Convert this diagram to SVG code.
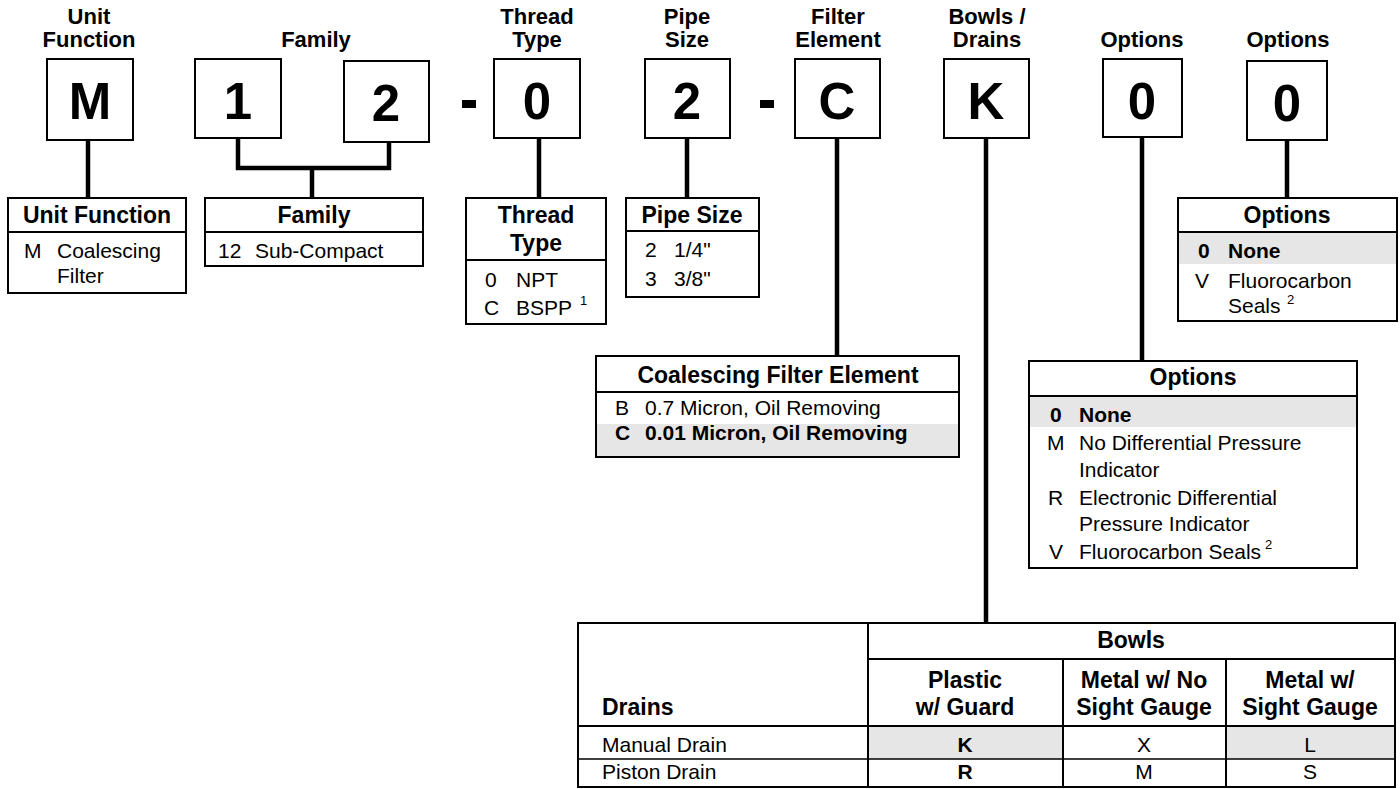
<svg xmlns="http://www.w3.org/2000/svg" width="1400" height="789" viewBox="0 0 1400 789">
<style>
text{font-family:"Liberation Sans",Arial,Helvetica,sans-serif;fill:#000}
.box{fill:#fff;stroke:#000;stroke-width:2}
.div{stroke:#000;stroke-width:2;fill:none}
.thin{stroke:#000;stroke-width:1.5;fill:none}
.conn{stroke:#000;stroke-width:4.5;fill:none}
.lbl{font-size:22px;font-weight:bold;text-anchor:middle}
.big{font-size:51px;font-weight:bold;text-anchor:middle}
.hd{font-size:23px;font-weight:bold;text-anchor:middle}
.tx{font-size:21px}
.b{font-weight:bold}
.mid{text-anchor:middle}
.sup{font-size:13px}
.hl{fill:#e6e6e6}
</style>
<rect width="1400" height="789" fill="#fff"/>

<g id="connectors">
<path class="conn" d="M88,140V197"/>
<path class="conn" d="M238,138V168H389V142M312,168V197"/>
<path class="conn" d="M539,138V197"/>
<path class="conn" d="M687,138V197"/>
<path class="conn" d="M837,138V356"/>
<path class="conn" d="M986,138V623"/>
<path class="conn" d="M1142,137V361"/>
<path class="conn" d="M1287,140V197"/>
</g>

<g id="top-labels">
<text class="lbl" x="89" y="24">Unit</text>
<text class="lbl" x="89" y="47">Function</text>
<text class="lbl" x="316" y="47">Family</text>
<text class="lbl" x="537" y="24">Thread</text>
<text class="lbl" x="537" y="47">Type</text>
<text class="lbl" x="687" y="24">Pipe</text>
<text class="lbl" x="687" y="47">Size</text>
<text class="lbl" x="838" y="24">Filter</text>
<text class="lbl" x="838" y="47">Element</text>
<text class="lbl" x="987" y="24">Bowls /</text>
<text class="lbl" x="987" y="47">Drains</text>
<text class="lbl" x="1142" y="47">Options</text>
<text class="lbl" x="1288" y="47">Options</text>
</g>

<g id="code-M"><rect class="box" x="47" y="59" width="86" height="81"/><text class="big" x="90" y="119">M</text></g>
<g id="code-1"><rect class="box" x="195" y="59" width="86" height="79"/><text class="big" x="238" y="119">1</text></g>
<g id="code-2"><rect class="box" x="344" y="61" width="85" height="81"/><text class="big" x="386" y="121">2</text></g>
<g id="dash-1"><rect x="462" y="100" width="14" height="8" fill="#000"/></g>
<g id="code-0"><rect class="box" x="494" y="59" width="86" height="79"/><text class="big" x="537" y="119">0</text></g>
<g id="code-2b"><rect class="box" x="645" y="59" width="85" height="79"/><text class="big" x="687" y="119">2</text></g>
<g id="dash-2"><rect x="760" y="100" width="14" height="8" fill="#000"/></g>
<g id="code-C"><rect class="box" x="795" y="59" width="85" height="79"/><text class="big" x="837" y="119">C</text></g>
<g id="code-K"><rect class="box" x="944" y="59" width="85" height="79"/><text class="big" x="986" y="119">K</text></g>
<g id="code-0b"><rect class="box" x="1103" y="59" width="79" height="78"/><text class="big" x="1142" y="119">0</text></g>
<g id="code-0c"><rect class="box" x="1247" y="61" width="80" height="79"/><text class="big" x="1287" y="121">0</text></g>

<g id="unit-function">
<rect class="box" x="8" y="198" width="178" height="95"/>
<path class="div" d="M8,232H186"/>
<text class="hd" x="97" y="223">Unit Function</text>
<text class="tx" x="24" y="258">M</text><text class="tx" x="57" y="258">Coalescing</text>
<text class="tx" x="57" y="283">Filter</text>
</g>

<g id="family">
<rect class="box" x="205" y="198" width="218" height="68"/>
<path class="div" d="M205,232H423"/>
<text class="hd" x="314" y="223">Family</text>
<text class="tx" x="218" y="258">12</text><text class="tx" x="255" y="258">Sub-Compact</text>
</g>

<g id="thread-type">
<rect class="box" x="466" y="198" width="140" height="126"/>
<path class="div" d="M466,260H606"/>
<text class="hd" x="536" y="223">Thread</text>
<text class="hd" x="536" y="251">Type</text>
<text class="tx" x="485" y="287">0</text><text class="tx" x="516" y="287">NPT</text>
<text class="tx" x="484" y="315">C</text><text class="tx" x="516" y="315">BSPP</text><text class="sup" x="580" y="305">1</text>
</g>

<g id="pipe-size">
<rect class="box" x="626" y="198" width="133" height="99"/>
<path class="div" d="M626,231H759"/>
<text class="hd" x="692" y="223">Pipe Size</text>
<text class="tx" x="645" y="257">2</text><text class="tx" x="674" y="257">1/4"</text>
<text class="tx" x="645" y="286">3</text><text class="tx" x="674" y="286">3/8"</text>
</g>

<g id="options-seals">
<rect class="box" x="1178" y="198" width="219" height="123"/>
<rect class="hl" x="1179" y="233" width="217" height="31"/>
<path class="div" d="M1178,232H1397"/>
<text class="hd" x="1287" y="223">Options</text>
<text class="tx b" x="1198" y="258">0</text><text class="tx b" x="1228" y="258">None</text>
<text class="tx" x="1195" y="288">V</text><text class="tx" x="1228" y="288">Fluorocarbon</text>
<text class="tx" x="1228" y="313">Seals</text><text class="sup" x="1287" y="304">2</text>
</g>

<g id="filter-element">
<rect class="box" x="596" y="356" width="363" height="101"/>
<rect class="hl" x="597" y="424" width="361" height="32"/>
<path class="div" d="M596,392H959"/>
<text class="hd" x="778" y="383">Coalescing Filter Element</text>
<text class="tx" x="615" y="415">B</text><text class="tx" x="645" y="415">0.7 Micron, Oil Removing</text>
<text class="tx b" x="615" y="440">C</text><text class="tx b" x="645" y="440">0.01 Micron, Oil Removing</text>
</g>

<g id="options-indicator">
<rect class="box" x="1029" y="361" width="328" height="207"/>
<rect class="hl" x="1030" y="397" width="326" height="30"/>
<path class="div" d="M1029,396H1357"/>
<text class="hd" x="1193" y="385">Options</text>
<text class="tx b" x="1050" y="422">0</text><text class="tx b" x="1079" y="422">None</text>
<text class="tx" x="1047" y="450">M</text><text class="tx" x="1079" y="450">No Differential Pressure</text>
<text class="tx" x="1079" y="477">Indicator</text>
<text class="tx" x="1048" y="505">R</text><text class="tx" x="1079" y="505">Electronic Differential</text>
<text class="tx" x="1079" y="531">Pressure Indicator</text>
<text class="tx" x="1049" y="559">V</text><text class="tx" x="1079" y="559">Fluorocarbon Seals</text><text class="sup" x="1265" y="549">2</text>
</g>

<g id="bowls-drains">
<rect class="hl" x="869" y="727" width="194" height="32"/>
<rect class="hl" x="1227" y="727" width="168" height="32"/>
<rect x="578" y="623" width="817" height="164" fill="none" stroke="#000" stroke-width="2"/>
<path class="div" d="M868,623V787M868,659H1395M1063,659V787M1226,659V787M578,726H1395"/>
<path class="thin" d="M578,759H1395"/>
<text class="hd" x="1131" y="648">Bowls</text>
<text class="hd" x="965" y="688">Plastic</text>
<text class="hd" x="965" y="715">w/ Guard</text>
<text class="hd" x="1144" y="688">Metal w/ No</text>
<text class="hd" x="1144" y="715">Sight Gauge</text>
<text class="hd" x="1310" y="688">Metal w/</text>
<text class="hd" x="1310" y="715">Sight Gauge</text>
<text class="tx b" x="602" y="715" style="font-size:23px">Drains</text>
<text class="tx" x="602" y="752">Manual Drain</text>
<text class="tx b mid" x="965" y="752">K</text>
<text class="tx mid" x="1144" y="752">X</text>
<text class="tx mid" x="1310" y="752">L</text>
<text class="tx" x="602" y="779">Piston Drain</text>
<text class="tx b mid" x="965" y="779">R</text>
<text class="tx mid" x="1144" y="779">M</text>
<text class="tx mid" x="1310" y="779">S</text>
</g>
</svg>
